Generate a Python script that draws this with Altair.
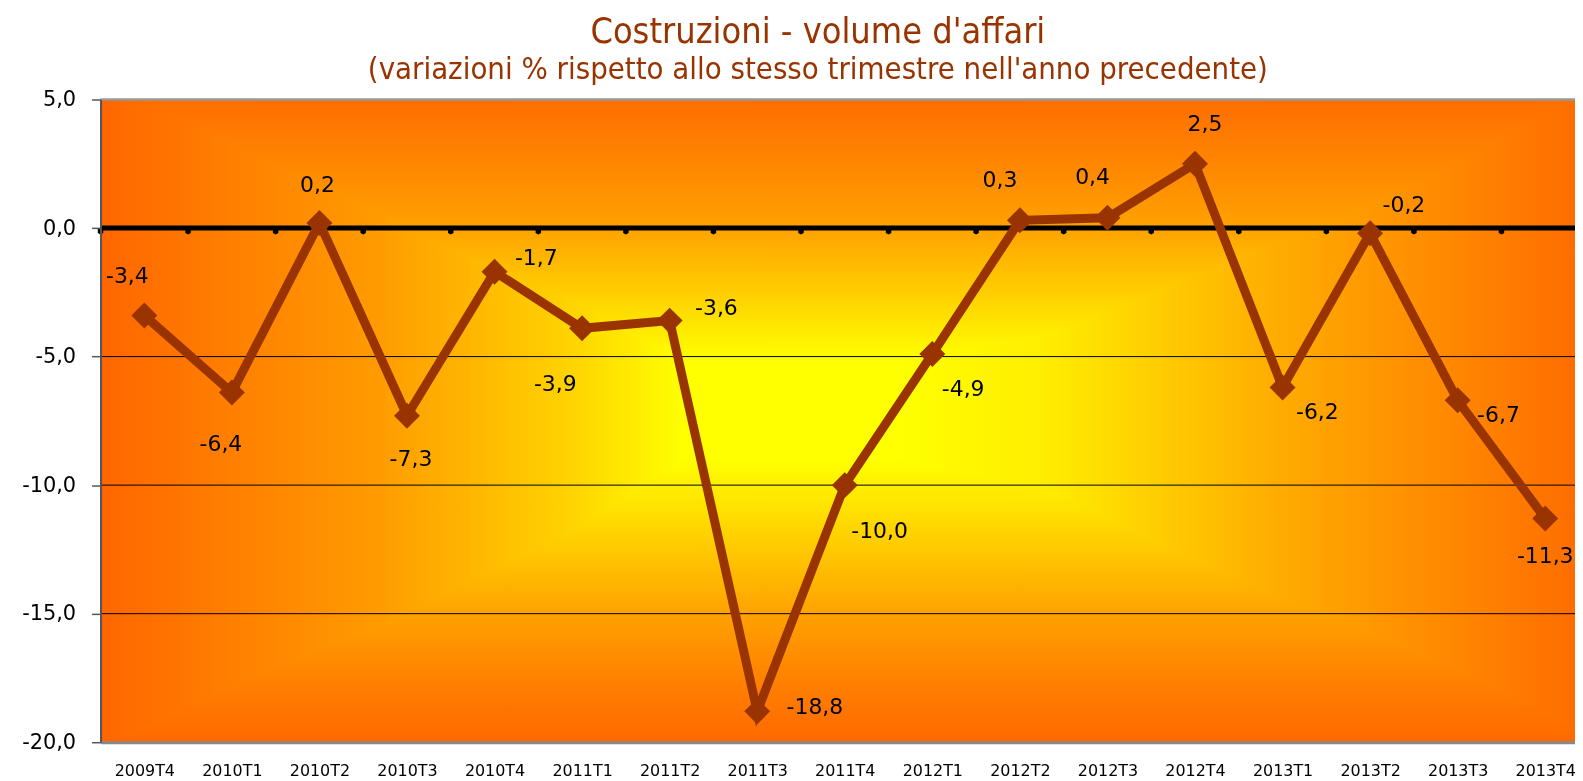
import json
import altair as alt
import pandas as pd

# ---------------- data ----------------
CATEGORIES = ["2009T4", "2010T1", "2010T2", "2010T3", "2010T4", "2011T1", "2011T2",
              "2011T3", "2011T4", "2012T1", "2012T2", "2012T3", "2012T4", "2013T1",
              "2013T2", "2013T3", "2013T4"]
VALUES = [-3.4, -6.4, 0.2, -7.3, -1.7, -3.9, -3.6, -18.8, -10.0, -4.9, 0.3, 0.4, 2.5,
          -6.2, -0.2, -6.7, -11.3]
Y_TICKS = [-20, -15, -10, -5, 0, 5]
TITLE = "Costruzioni - volume d'affari"
SUBTITLE = "(variazioni % rispetto allo stesso trimestre nell'anno precedente)"

# label placement offsets in px (dx, dy) around each marker
LABEL_DX = [-17, -11, -2, 4, 42, -27, 47, 58, 35, 31, -20, -15, 10, 35, 34, 41, 0]
LABEL_DY = [-40, 52, -38, 44, -14, 56, -13, -4, 46, 35, -41, -41, -40, 25, -28, 15, 38]

# ---------------- styles ----------------
BROWN = "#993300"
LABEL_FONT = "DejaVu Sans"
TITLE_FONT = "DejaVu Sans Condensed, Roboto, sans-serif"
PLOT_W, PLOT_H = 1482, 646
X_MIN, X_MAX = -0.5, 16.34
Y_MIN, Y_MAX = Y_TICKS[0], Y_TICKS[-1]

# background "from centre" gradient: horizontal and vertical profiles, combined with darken
H_STOPS = [(0.0, "#FF6600"), (0.19, "#FF9C00"), (0.32, "#FFD400"), (0.395, "#FFFF00"),
           (0.542, "#FFFF00"), (0.638, "#FFEE00"), (0.798, "#FFAC00"), (1.0, "#FF6E00")]
V_STOPS = [(0.0, "#FF6E00"), (0.1, "#FF8600"), (0.2, "#FFA200"), (0.3, "#FFCE00"),
           (0.405, "#FFFF00"), (0.56, "#FFFF00"), (0.8, "#FFA200"), (0.9, "#FF8200"),
           (1.0, "#FF6800")]

n = len(CATEGORIES)
df = pd.DataFrame({
    "idx": list(range(n)),
    "cat": CATEGORIES,
    "value": VALUES,
    "label": [f"{v:.1f}".replace(".", ",") for v in VALUES],
    "dx": LABEL_DX,
    "dy": LABEL_DY,
})
bg = pd.DataFrame({"x0": [X_MIN], "x1": [X_MAX], "y0": [Y_MIN], "y1": [Y_MAX]})
grid = pd.DataFrame({"g": [t for t in Y_TICKS if t not in (Y_MIN, Y_MAX, 0)]})
zero = pd.DataFrame({"z": [0]})
bounds = pd.DataFrame({"b": [i - 0.5 for i in range(n)], "z": [0] * n})

XS = alt.Scale(domain=[X_MIN, X_MAX], nice=False, zero=False)
YS = alt.Scale(domain=[Y_MIN, Y_MAX], nice=False, zero=False)
XAXIS = alt.Axis(values=list(range(n)), labelExpr=f"{json.dumps(CATEGORIES)}[datum.value]",
                 title=None, ticks=False, tickSize=0, grid=False, domainColor="#888888",
                 domainWidth=3, labelFont=LABEL_FONT, labelFontSize=16, labelColor="black",
                 labelPadding=20, labelOverlap=False, labelFlush=False, labelBound=False,
                 zindex=1)
YAXIS = alt.Axis(values=Y_TICKS,
                 labelExpr="replace(replace(format(datum.value, '.1f'), '.', ','), '\u2212', '-')",
                 title=None, grid=False, domainColor="#555555", domainWidth=2,
                 tickColor="#555555", tickSize=9, tickWidth=1.5, labelFont=LABEL_FONT,
                 labelFontSize=21, labelColor="black", labelPadding=16, labelFlush=False,
                 labelOverlap=False, zindex=1)


def xq(f):
    return alt.X(f, type="quantitative", scale=XS, axis=XAXIS)


def yq(f):
    return alt.Y(f, type="quantitative", scale=YS, axis=YAXIS)


def grad(stops, horizontal):
    return {"gradient": "linear", "x1": 0, "y1": 0,
            "x2": 1 if horizontal else 0, "y2": 0 if horizontal else 1,
            "stops": [{"offset": o, "color": c} for o, c in stops]}


bg_h = alt.Chart(bg).mark_rect(fill=grad(H_STOPS, True)).encode(
    x=xq("x0"), x2="x1", y=yq("y0"), y2="y1")
bg_v = alt.Chart(bg).mark_rect(fill=grad(V_STOPS, False), blend="darken").encode(
    x=xq("x0"), x2="x1", y=yq("y0"), y2="y1")
grid_rules = alt.Chart(grid).mark_rule(color="black", strokeWidth=1).encode(y=yq("g"))
top_rule = alt.Chart(bg).mark_rule(color="#999999", strokeWidth=2.5).encode(y=yq("y1"))
zero_rule = alt.Chart(zero).mark_rule(color="black", strokeWidth=5).encode(y=yq("z"))
tick_dots = alt.Chart(bounds).mark_point(
    shape="M-0.5,0L0.5,0L0.5,0.9L0,1.2L-0.5,0.9Z", filled=True, size=121,
    color="black", opacity=1, strokeWidth=0
).encode(x=xq("b"), y=yq("z"))
line = alt.Chart(df).mark_line(color=BROWN, strokeWidth=9).encode(x=xq("idx"), y=yq("value"))
points = alt.Chart(df).mark_point(shape="diamond", filled=True, size=680, color=BROWN,
                                  opacity=1).encode(x=xq("idx"), y=yq("value"))
labels = alt.Chart(df).mark_text(
    font=LABEL_FONT, fontSize=22, color="black", align="center", baseline="middle",
    dx=alt.expr("datum.dx"), dy=alt.expr("datum.dy")
).encode(x=xq("idx"), y=yq("value"), text="label:N")

chart = alt.layer(
    bg_h, bg_v, grid_rules, top_rule, zero_rule, tick_dots, line, points, labels
).properties(
    width=PLOT_W, height=PLOT_H,
    title=alt.TitleParams(text=TITLE, subtitle=SUBTITLE, anchor="middle", frame="group",
                          dx=-20, font=TITLE_FONT, fontSize=36, fontWeight="normal",
                          color=BROWN, subtitleFont=TITLE_FONT, subtitleFontSize=31,
                          subtitleColor=BROWN, offset=3, subtitlePadding=4),
    autosize=alt.AutoSizeParams(type="none"),
    padding={"left": 93, "top": 90, "right": 0, "bottom": 36},
).configure_view(stroke=None).configure(background="white")

chart.save("out.html", embed_options={"renderer": "svg", "actions": False})
